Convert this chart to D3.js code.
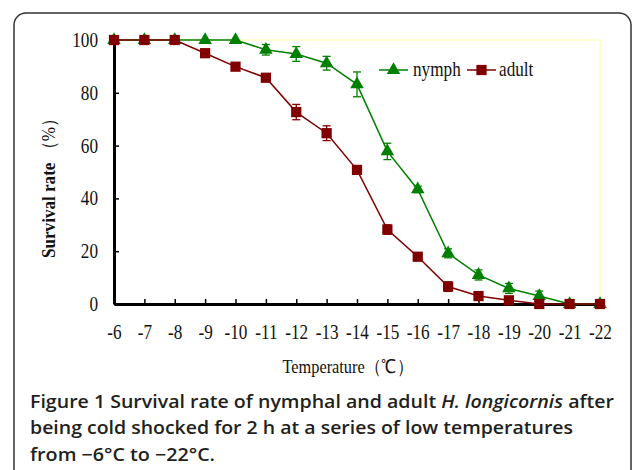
<!DOCTYPE html>
<html>
<head>
<meta charset="utf-8">
<script src="https://cdn.jsdelivr.net/npm/d3@7"></script>
<style>
  body { margin: 0; background: #fff; }
  svg { display: block; }
</style>
</head>
<body>
<div id="chart"></div>
<script>
// Temperatures (°C) on the x axis
const temps = [-6, -7, -8, -9, -10, -11, -12, -13, -14, -15, -16, -17, -18, -19, -20, -21, -22];

// Survival rate (%) and error bars
const nymph = [100, 100, 100, 100, 100, 96.3, 94.7, 91.2, 83.2, 57.8, 43.4, 19.2, 11, 5.9, 3, 0, 0];
const nymphErr = [0, 0, 0, 0, 0, 2, 2.8, 2.6, 4.7, 3.1, 1.2, 1.7, 1.9, 1.9, 1.9, 0, 0];
const adult = [100, 100, 100, 95, 89.9, 85.7, 72.7, 64.7, 50.8, 28.2, 17.9, 6.6, 3, 1.4, 0, 0, 0];
const adultErr = [0, 0, 0.8, 1, 1, 1.4, 2.9, 2.8, 1, 1.8, 0.6, 1.8, 0.8, 0.5, 0, 0, 0];

const yTicks = [0, 20, 40, 60, 80, 100];

const width = 633, height = 470;
const plot = { left: 114, right: 600, top: 40, bottom: 304 };
const squeeze = 0.86; // the figure's serif face is narrower than Liberation Serif

const svg = d3.select("#chart").append("svg")
  .attr("width", width)
  .attr("height", height);

// outer rounded frame
svg.append("rect")
  .attr("x", 14).attr("y", 13)
  .attr("width", 617).attr("height", 520)
  .attr("rx", 12).attr("ry", 12)
  .attr("fill", "none")
  .attr("stroke", "#333")
  .attr("stroke-width", 1.5);

const x = d3.scaleLinear().domain([-6, -22]).range([plot.left, plot.right]);
const y = d3.scaleLinear().domain([0, 100]).range([plot.bottom, plot.top]);

// pale plot-area border
svg.append("path")
  .attr("d", `M${plot.left},${plot.top}H${plot.right}V${plot.bottom}`)
  .attr("fill", "none")
  .attr("stroke", "#ffffc0")
  .attr("stroke-width", 1.5);

const serif = "'Liberation Serif', 'Times New Roman', serif";

// axes
const yAxis = d3.axisLeft(y).tickValues(yTicks).tickSizeInner(-5).tickSizeOuter(0);
const xAxis = d3.axisBottom(x).tickValues(temps).tickSizeInner(-5).tickSizeOuter(0)
  .tickFormat(d => "-" + Math.abs(d));

const gy = svg.append("g").attr("transform", `translate(${plot.left},0)`).call(yAxis);
const gx = svg.append("g").attr("transform", `translate(0,${plot.bottom})`).call(xAxis);

[gx, gy].forEach(g => {
  g.select(".domain").attr("stroke", "#000").attr("stroke-width", 3);
  g.selectAll(".tick line").attr("stroke", "#000").attr("stroke-width", 1.5);
  g.selectAll("text")
    .attr("fill", "#111")
    .attr("transform", `scale(${squeeze},1)`)
    .style("font-family", serif)
    .style("font-size", "20px");
});
gx.selectAll("text").attr("y", 35).attr("dy", null);
gy.selectAll("text").attr("x", -16 / squeeze);

// series
const series = [
  { name: "nymph", values: nymph, err: nymphErr, color: "#008000", shape: d3.symbolTriangle, size: 80 },
  { name: "adult", values: adult, err: adultErr, color: "#800000", shape: d3.symbolSquare, size: 105 },
];

const line = d3.line().x(d => x(d[0])).y(d => y(d[1]));

series.forEach(s => {
  const pts = temps.map((t, i) => [t, s.values[i], s.err[i]]);
  const g = svg.append("g");

  g.append("path")
    .attr("d", line(pts))
    .attr("fill", "none")
    .attr("stroke", s.color)
    .attr("stroke-width", 1.5);

  // error bars
  const eb = g.selectAll(".err")
    .data(pts.filter(d => d[2] > 0))
    .join("g");
  eb.append("line")
    .attr("x1", d => x(d[0])).attr("x2", d => x(d[0]))
    .attr("y1", d => y(d[1] + d[2])).attr("y2", d => y(d[1] - d[2]))
    .attr("stroke", s.color).attr("stroke-width", 1.3);
  eb.append("line")
    .attr("x1", d => x(d[0]) - 4).attr("x2", d => x(d[0]) + 4)
    .attr("y1", d => y(d[1] + d[2])).attr("y2", d => y(d[1] + d[2]))
    .attr("stroke", s.color).attr("stroke-width", 1.3);
  eb.append("line")
    .attr("x1", d => x(d[0]) - 4).attr("x2", d => x(d[0]) + 4)
    .attr("y1", d => y(d[1] - d[2])).attr("y2", d => y(d[1] - d[2]))
    .attr("stroke", s.color).attr("stroke-width", 1.3);

  g.selectAll(".mk")
    .data(pts)
    .join("path")
    .attr("transform", d => `translate(${x(d[0])},${y(d[1])})`)
    .attr("d", d3.symbol().type(s.shape).size(s.size))
    .attr("fill", s.color);
});

// condensed serif text helper
function serifText(px, py, size, anchor) {
  return svg.append("g")
    .attr("transform", `translate(${px},${py}) scale(${squeeze},1)`)
    .append("text")
    .attr("text-anchor", anchor)
    .style("font-family", serif)
    .style("font-size", size + "px")
    .attr("fill", "#111");
}

// legend
const legend = [
  { x: 379, textX: 413 },
  { x: 467, textX: 499 },
];
series.forEach((s, i) => {
  const lx = legend[i].x, ly = 70;
  svg.append("line")
    .attr("x1", lx).attr("x2", lx + 29)
    .attr("y1", ly).attr("y2", ly)
    .attr("stroke", s.color).attr("stroke-width", 1.5);
  svg.append("path")
    .attr("transform", `translate(${lx + 14.5},${ly})`)
    .attr("d", d3.symbol().type(s.shape).size(s.size))
    .attr("fill", s.color);
  serifText(legend[i].textX, ly + 6, 20, "start").text(s.name);
});

// axis titles
const yt = svg.append("g")
  .attr("transform", "translate(55,184) rotate(-90) scale(0.9,1)")
  .append("text")
  .attr("text-anchor", "middle")
  .style("font-family", serif)
  .style("font-size", "19px")
  .attr("fill", "#111");
yt.append("tspan").style("font-weight", "bold").text("Survival rate ");
yt.append("tspan").text("（%）");

serifText(348, 373, 19, "middle").text("Temperature（℃）");

// caption
const sans = "'Open Sans', 'Noto Sans', sans-serif";
const cap = svg.append("g")
  .style("font-family", sans)
  .style("font-size", "17.5px")
  .style("font-weight", "600")
  .attr("fill", "#231f20");

const c1 = cap.append("text").attr("x", 30).attr("y", 408)
  .attr("textLength", 584).attr("lengthAdjust", "spacingAndGlyphs");
c1.append("tspan").text("Figure 1 Survival rate of nymphal and adult ");
c1.append("tspan").style("font-style", "italic").text("H. longicornis");
c1.append("tspan").text(" after");

cap.append("text").attr("x", 30).attr("y", 434)
  .attr("textLength", 543).attr("lengthAdjust", "spacingAndGlyphs")
  .text("being cold shocked for 2 h at a series of low temperatures");

cap.append("text").attr("x", 30).attr("y", 461)
  .attr("textLength", 185).attr("lengthAdjust", "spacingAndGlyphs")
  .text("from −6°C to −22°C.");
</script>
</body>
</html>
